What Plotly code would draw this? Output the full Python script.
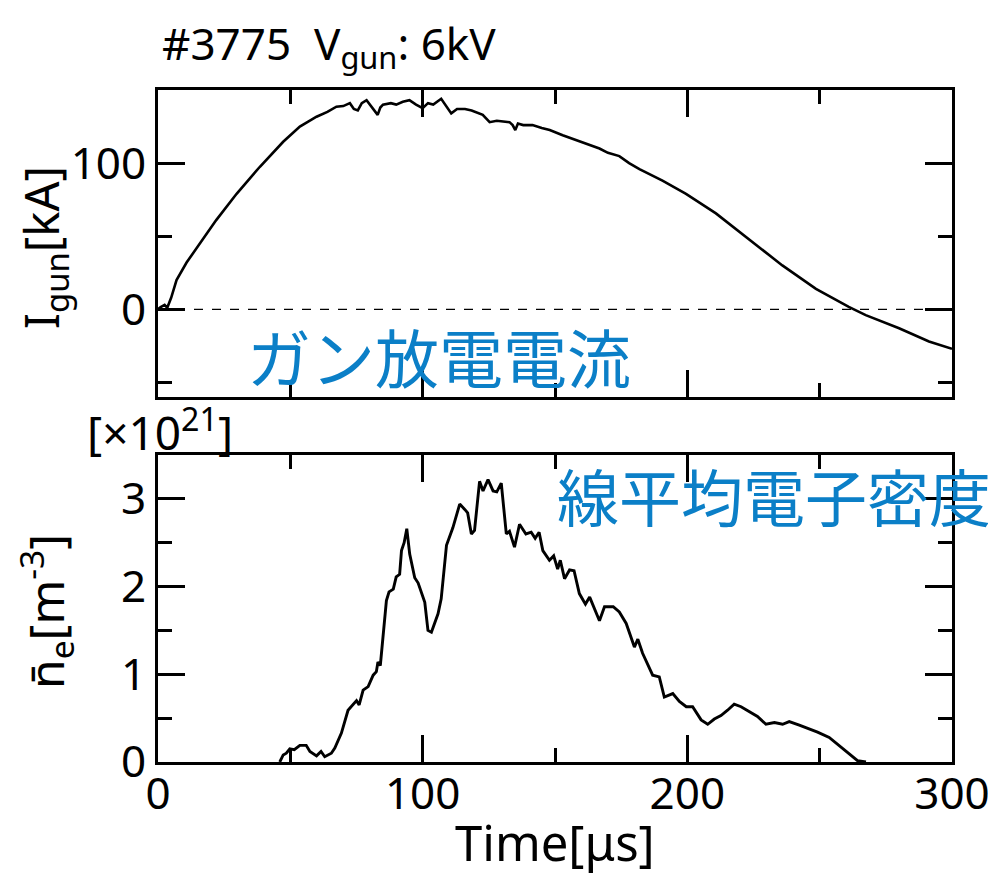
import plotly.graph_objects as go

# ---- data ----
t_gun = [0, 1, 2.5, 3.5, 5, 7, 10.8, 15.8, 22, 29.7, 38.5, 47.3, 53.6, 59.9, 64, 67.4, 70, 72.5, 74, 75.5,
         77, 78.8, 80.5, 82, 83, 84, 85, 88, 90, 92.5, 95, 97.5, 100, 102, 104, 107, 109, 110.8, 113, 116,
         118.5, 120, 122.7, 125.3, 128, 132.8, 134, 135, 136, 138, 141.5, 145, 148, 152.9, 158, 162, 166.8,
         170, 174.3, 178, 181.9, 190.6, 199.5, 210.8, 223.4, 235.9, 248.6, 255, 261, 267.4, 280, 291.3, 300]
i_gun = [0, 1.5, 3, 1, 8, 20, 32, 45, 61, 79, 97.5, 114.6, 125, 131.7, 135, 138.6, 139, 141, 137, 136,
         141, 143, 139, 135, 133, 138, 140, 141, 140, 142, 143, 140, 137.6, 141, 140, 144, 139, 134, 137, 137,
         136, 135, 133, 128, 129, 128, 126, 122.6, 127, 126, 126, 124, 122.6, 119, 115.8, 113, 110,
         107, 104.8, 100, 95.9, 88, 79, 65.6, 48, 30, 14, 7.5, 1.6, -4, -13, -22, -27]

t_ne = [46, 47.3, 48.5, 49.8, 51.5, 53.6, 56, 57.4, 59.9, 61.6, 63, 65.5, 66.8, 69.3, 71.8, 73.6, 75, 76,
        77.5, 79.4, 81.3, 82.5, 83.1, 84, 85, 86.3, 87.3, 88.9, 90, 91.3, 92, 93, 94, 95.1, 97, 98.3, 100.8,
        102, 103.3, 105.8, 107, 109, 111.4, 114, 115.9, 117, 118.4, 119.6, 121.5, 122.8, 124.7, 126.6, 128,
        129.7, 131.6, 132.8, 134.7, 136.6, 139, 141, 142.5, 144, 145.4, 147.9, 149.5, 151, 152, 153.6, 155.5,
        157.2, 159.2, 161.5, 163.1, 166.8, 168.7, 172, 174.3, 176.9, 180, 181.3, 183.1, 185.7, 186.9, 189.4,
        191.3, 194.5, 197, 199.6, 202, 205.2, 207.7, 210.2, 212.7, 215.2, 217.7, 220.3, 223.4, 226.5, 229.7,
        232.9, 236, 238.5, 242.3, 246, 249.2, 253.6, 258.6, 262.4, 264.3, 267.5]
ne = [0, 0.08, 0.1, 0.15, 0.14, 0.19, 0.19, 0.12, 0.07, 0.12, 0.06, 0.1, 0.16, 0.33, 0.59, 0.65, 0.7, 0.65,
      0.82, 0.86, 0.99, 1.03, 1.14, 1.1, 1.46, 1.84, 1.94, 1.97, 2.11, 2.14, 2.41, 2.5, 2.66, 2.37, 2.1, 2.04, 1.82,
      1.5, 1.48, 1.69, 1.86, 2.47, 2.67, 2.94, 2.88, 2.84, 2.6, 2.64, 3.2, 3.09, 3.22, 3.09, 3.08,
      3.18, 2.6, 2.63, 2.45, 2.71, 2.6, 2.62, 2.55, 2.62, 2.41, 2.3, 2.35, 2.2, 2.3, 2.09, 2.19,
      2.18, 1.92, 1.8, 1.88, 1.61, 1.77, 1.77, 1.71, 1.58, 1.31, 1.4, 1.24, 1.08, 0.99, 0.97,
      0.74, 0.78, 0.69, 0.63, 0.63, 0.48, 0.43, 0.49, 0.53, 0.59, 0.66, 0.63, 0.57, 0.52, 0.43,
      0.45, 0.43, 0.46, 0.42, 0.38, 0.34, 0.28, 0.16, 0.07, 0.015, 0]

x_ticks = [0, 100, 200, 300]
gun_ticks = [0, 100]
ne_ticks = [0, 1, 2, 3]

W, H = 996, 875
OFF = 8  # page body margin
FONT = "Noto Sans"
BLUE = "#0b7fc7"

def px(x):
    return (x - OFF) / W

def py(y):
    return 1 - (y - OFF) / H

fig = go.Figure()
fig.add_trace(go.Scatter(x=[0, 300], y=[0, 0], mode="lines",
                         line=dict(color="black", width=1.3, dash="dash"),
                         xaxis="x", yaxis="y", showlegend=False, hoverinfo="skip"))
fig.add_trace(go.Scatter(x=t_gun, y=i_gun, mode="lines", line=dict(color="black", width=2.6),
                         xaxis="x", yaxis="y", showlegend=False))
fig.add_trace(go.Scatter(x=t_ne, y=ne, mode="lines", line=dict(color="black", width=2.9),
                         xaxis="x2", yaxis="y2", showlegend=False))

common = dict(showline=True, linewidth=3, linecolor="black", mirror="allticks",
              ticks="inside", ticklen=27, tickwidth=3, tickcolor="black",
              showgrid=False, zeroline=False, automargin=False,
              tickfont=dict(family=FONT, size=44, color="black"))

xdom = [px(158), px(952)]
fig.update_layout(
    width=W, height=H,
    margin=dict(l=0, r=0, t=0, b=0, autoexpand=False),
    paper_bgcolor="white", plot_bgcolor="white",
    xaxis=dict(domain=xdom, range=[0, 300], tickvals=x_ticks, showticklabels=False, anchor="y",
               minor=dict(ticks="inside", ticklen=14, tickwidth=3, tickcolor="black", dtick=50, tick0=0),
               **common),
    yaxis=dict(domain=[py(397), py(90)], range=[-60, 150], tickvals=gun_ticks, anchor="x",
               minor=dict(ticks="inside", ticklen=14, tickwidth=3, tickcolor="black", dtick=50, tick0=0),
               **common),
    xaxis2=dict(domain=xdom, range=[0, 300], tickvals=x_ticks, anchor="y2", ticklabelstandoff=-9,
                minor=dict(ticks="inside", ticklen=14, tickwidth=3, tickcolor="black", dtick=50, tick0=0),
                **common),
    yaxis2=dict(domain=[py(762), py(455)], range=[0, 3.5], tickvals=ne_ticks, anchor="x2",
                minor=dict(ticks="inside", ticklen=14, tickwidth=3, tickcolor="black", dtick=0.5, tick0=0),
                **common),
)

ann = []
ann.append(dict(text="#3775  V<sub>gun</sub>: 6kV", x=px(160), y=py(46), xanchor="left", yanchor="middle",
                font=dict(family=FONT, size=44, color="black")))
ann.append(dict(text="I<sub>gun</sub>[kA]", x=px(44), y=py(248), textangle=-90,
                xanchor="center", yanchor="middle", font=dict(family=FONT, size=47, color="black")))
ann.append(dict(text="n\u0304<sub>e</sub>[m<sup>-3</sup>]", x=px(46), y=py(612), textangle=-90,
                xanchor="center", yanchor="middle", font=dict(family=FONT, size=48, color="black")))
ann.append(dict(text="[\u00d710<sup>21</sup>]", x=px(160), y=py(430), xanchor="center", yanchor="middle",
                font=dict(family=FONT, size=46, color="black")))
ann.append(dict(text="Time[\u03bcs]", x=px(555), y=py(842), xanchor="center", yanchor="middle",
                font=dict(family=FONT, size=49, color="black")))
ann.append(dict(text="ガン放電電流", x=px(245), y=py(355), xanchor="left", yanchor="middle",
                font=dict(family="Noto Sans CJK JP", size=64, color=BLUE)))
ann.append(dict(text="線平均電子密度", x=px(555), y=py(495), xanchor="left", yanchor="middle",
                font=dict(family="Noto Sans CJK JP", size=62, color=BLUE)))
for a in ann:
    a.update(xref="paper", yref="paper", showarrow=False)
fig.update_layout(annotations=ann)

fig.write_html("out.html")
